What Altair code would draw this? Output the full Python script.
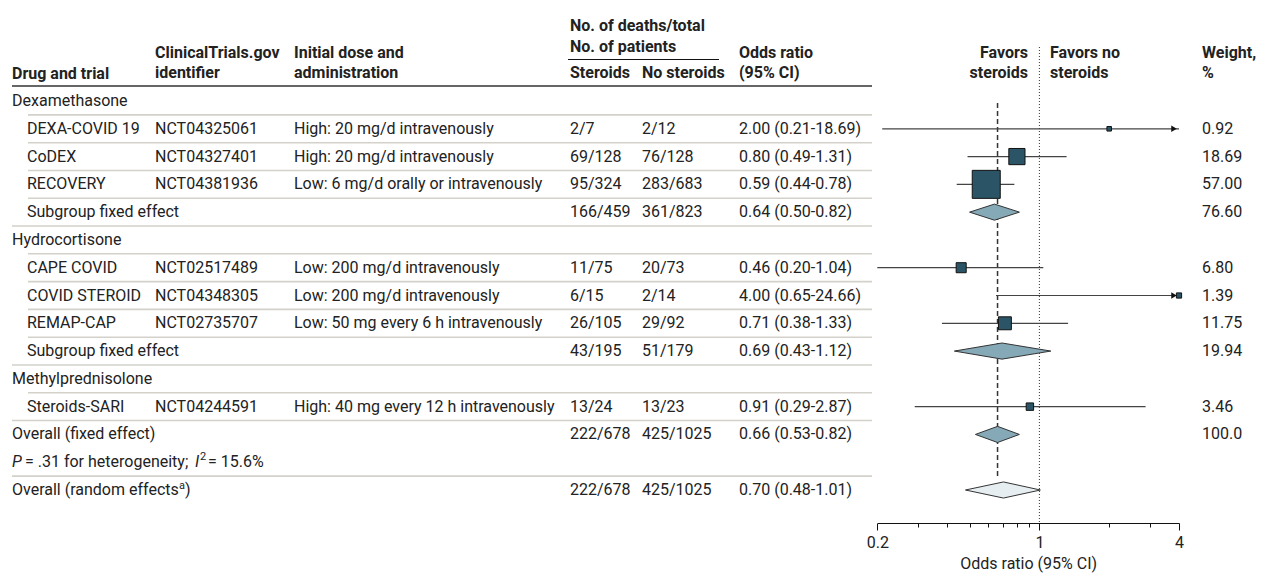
import altair as alt
import pandas as pd

FONT = "Roboto"
FS = 16
TXT = "#222222"

# ---------------- data ----------------
labels = ["Dexamethasone", "DEXA-COVID 19", "CoDEX", "RECOVERY", "Subgroup fixed effect",
          "Hydrocortisone", "CAPE COVID", "COVID STEROID", "REMAP-CAP", "Subgroup fixed effect",
          "Methylprednisolone", "Steroids-SARI", "Overall (fixed effect)", "",
          "Overall (random effects"]
kinds = ["group", "trial", "trial", "trial", "sub",
         "group", "trial", "trial", "trial", "sub",
         "group", "trial", "overall", "note", "random"]
nct = ["", "NCT04325061", "NCT04327401", "NCT04381936", "",
       "", "NCT02517489", "NCT04348305", "NCT02735707", "",
       "", "NCT04244591", "", "", ""]
dose = ["", "High: 20 mg/d intravenously", "High: 20 mg/d intravenously",
        "Low: 6 mg/d orally or intravenously", "",
        "", "Low: 200 mg/d intravenously", "Low: 200 mg/d intravenously",
        "Low: 50 mg every 6 h intravenously", "",
        "", "High: 40 mg every 12 h intravenously", "", "", ""]
deaths_st = ["", "2/7", "69/128", "95/324", "166/459", "", "11/75", "6/15", "26/105", "43/195",
             "", "13/24", "222/678", "", "222/678"]
deaths_no = ["", "2/12", "76/128", "283/683", "361/823", "", "20/73", "2/14", "29/92", "51/179",
             "", "13/23", "425/1025", "", "425/1025"]
odds = [None, 2.00, 0.80, 0.59, 0.64, None, 0.46, 4.00, 0.71, 0.69, None, 0.91, 0.66, None, 0.70]
ci_lo = [None, 0.21, 0.49, 0.44, 0.50, None, 0.20, 0.65, 0.38, 0.43, None, 0.29, 0.53, None, 0.48]
ci_hi = [None, 18.69, 1.31, 0.78, 0.82, None, 1.04, 24.66, 1.33, 1.12, None, 2.87, 0.82, None, 1.01]
weights = [None, 0.92, 18.69, 57.00, 76.60, None, 6.80, 1.39, 11.75, 19.94, None, 3.46, 100.0, None, None]
weight_txt = ["", "0.92", "18.69", "57.00", "76.60", "", "6.80", "1.39", "11.75", "19.94",
              "", "3.46", "100.0", "", ""]
null_value = [1.0]
tick_values = [0.2, 0.3, 0.4, 0.5, 0.6, 0.7, 0.8, 0.9, 1, 2, 3, 4]
tick_labels = ["0.2", "1", "4"]
x_min, x_max = 0.2, 4.0

# ---------------- tables ----------------
rows = pd.DataFrame({
    "label": labels, "kind": kinds, "nct": nct, "dose": dose,
    "st": deaths_st, "nost": deaths_no, "or": odds, "lo": ci_lo, "hi": ci_hi,
    "weight": weights, "wtxt": weight_txt,
})
rows["pos"] = range(len(rows))
rows["orci"] = [f"{o:.2f} ({l:.2f}-{h:.2f})" if pd.notna(o) else ""
                for o, l, h in zip(rows["or"], rows["lo"], rows["hi"])]
rows["lo_c"] = rows["lo"].clip(lower=x_min)
rows["hi_c"] = rows["hi"].clip(upper=x_max)
rows["arrow"] = rows["hi"] > x_max

trials = rows[rows["kind"] == "trial"].copy()
arrows = trials[trials["arrow"]].copy()

H = 0.29
dia = []
for _, r in rows[rows["kind"].isin(["sub", "overall", "random"])].iterrows():
    for xv, a, b in [(r["lo"], r["pos"], r["pos"]), (r["or"], r["pos"] - H, r["pos"] + H),
                     (r["hi"], r["pos"], r["pos"])]:
        dia.append({"id": int(r["pos"]), "kind": r["kind"], "x": xv, "ya": a, "yb": b})
dia = pd.DataFrame(dia)

seps = rows[~rows["kind"].isin(["overall", "random"])].copy()
seps["sp"] = seps["pos"] + 0.5
nxt = list(rows["kind"][1:]) + [""]
seps["indent"] = [nxt[int(p)] in ("trial", "sub") for p in seps["pos"]]

overall = rows[rows["kind"] == "overall"].copy()

# ---------------- scales ----------------
yscale = alt.Scale(domain=[0, 14], range=[93, 482], zero=False, nice=False)
xscale = alt.Scale(type="log", domain=[x_min, x_max], range=[869.3, 1171], nice=False)
Y = alt.Y("pos:Q", scale=yscale, axis=None)

major_test = " || ".join(f"datum.value == {t}" for t in tick_labels)
label_expr = " : ".join(f"datum.value == {t} ? '{t}'" for t in tick_labels) + " : ''"
X_AXIS = alt.Axis(values=tick_values, labelExpr=label_expr, title="Odds ratio (95% CI)",
                  grid=False, domainColor="#111", domainWidth=1, tickColor="#111",
                  tickSize={"condition": {"test": major_test, "value": 7}, "value": 4},
                  labelFont=FONT, labelFontSize=16, labelColor=TXT, labelPadding=4,
                  labelFlush=False, labelOverlap=False, titleFont=FONT, titleFontSize=16,
                  titleFontWeight="normal", titleColor=TXT, titlePadding=5)

layers = []


def col_text(df, field, x, align="left"):
    return alt.Chart(df).mark_text(align=align, baseline="middle", font=FONT, fontSize=FS,
                                   color=TXT).encode(x=alt.value(x), y=Y, text=f"{field}:N")


def hdr(t, x, y, align="left", bold=True):
    return alt.Chart(pd.DataFrame({"t": [t]})).mark_text(
        align=align, baseline="middle", font=FONT, fontSize=FS, color=TXT,
        fontWeight="bold" if bold else "normal").encode(
        x=alt.value(x), y=alt.value(y), text="t:N")


# separators
layers.append(alt.Chart(seps[seps["indent"]]).mark_rule(color="#d3d1c9", strokeWidth=1.6).encode(
    y=alt.Y("sp:Q", scale=yscale, axis=None), x=alt.value(20), x2=alt.value(864)))
layers.append(alt.Chart(seps[~seps["indent"]]).mark_rule(color="#d3d1c9", strokeWidth=1.6).encode(
    y=alt.Y("sp:Q", scale=yscale, axis=None), x=alt.value(4), x2=alt.value(864)))
# header rules
layers.append(alt.Chart(pd.DataFrame({"a": [0]})).mark_rule(color="#666", strokeWidth=2).encode(
    x=alt.value(4), x2=alt.value(864), y=alt.value(78)))
layers.append(alt.Chart(pd.DataFrame({"a": [0]})).mark_rule(color="#111", strokeWidth=1).encode(
    x=alt.value(560), x2=alt.value(711), y=alt.value(51.5)))

# headers
for t, x, y, al in [
    ("Drug and trial", 4, 66, "left"),
    ("ClinicalTrials.gov", 147, 45, "left"), ("identifier", 147, 65, "left"),
    ("Initial dose and", 286, 45, "left"), ("administration", 286, 65, "left"),
    ("No. of deaths/total", 562, 18, "left"), ("No. of patients", 562, 39, "left"),
    ("Steroids", 562, 65, "left"), ("No steroids", 634, 65, "left"),
    ("Odds ratio", 731, 45, "left"), ("(95% CI)", 731, 65, "left"),
    ("Favors", 1020, 45, "right"), ("steroids", 1020, 65, "right"),
    ("Favors no", 1042, 45, "left"), ("steroids", 1042, 65, "left"),
    ("Weight,", 1194, 45, "left"), ("%", 1194, 65, "left"),
]:
    layers.append(hdr(t, x, y, al))

# table columns
layers.append(col_text(rows[rows["kind"].isin(["group", "overall", "random"])], "label", 4))
layers.append(col_text(rows[rows["kind"].isin(["trial", "sub"])], "label", 19))
layers.append(col_text(rows, "nct", 147))
layers.append(col_text(rows, "dose", 286))
layers.append(col_text(rows, "st", 562))
layers.append(col_text(rows, "nost", 634))
layers.append(col_text(rows, "orci", 731))
layers.append(col_text(rows, "wtxt", 1194))

# heterogeneity note and superscript pieces
note = rows[rows["kind"] == "note"]
rnd = rows[rows["kind"] == "random"]
for df, t, x, style, fs, dy in [
    (note, "P", 4, "italic", FS, 0), (note, "= .31 for heterogeneity;", 17, "normal", FS, 0),
    (note, "I", 187, "italic", FS, 0), (note, "2", 192, "normal", 11, -5),
    (note, "= 15.6%", 200, "normal", FS, 0),
    (rnd, "a", 171, "normal", 11, -4), (rnd, ")", 177, "normal", FS, 0),
]:
    layers.append(alt.Chart(df).mark_text(align="left", baseline="middle", font=FONT, fontSize=fs,
                                          fontStyle=style, color=TXT, dy=dy).encode(
        x=alt.value(x), y=Y, text=alt.value(t)))

# reference lines
layers.append(alt.Chart(pd.DataFrame({"v": null_value})).mark_rule(
    color="#333", strokeWidth=1, strokeDash=[1, 2]).encode(
    x=alt.X("v:Q", scale=xscale), y=alt.value(39), y2=alt.value(515)))
layers.append(alt.Chart(overall).mark_rule(color="#333", strokeWidth=1.5, strokeDash=[5, 3]).encode(
    x=alt.X("or:Q", scale=xscale), y=alt.value(95), y2=alt.value(470)))

# CI lines
layers.append(alt.Chart(trials).mark_rule(color="#444", strokeWidth=1.2).encode(
    x=alt.X("lo_c:Q", scale=xscale), x2="hi_c:Q", y=Y))
layers.append(alt.Chart(arrows).mark_point(shape="triangle-right", filled=True, size=40,
                                           color="#111", opacity=1, xOffset=-5).encode(
    x=alt.X("hi_c:Q", scale=xscale), y=Y))

# diamonds
layers.append(alt.Chart(dia[dia["kind"] != "random"]).mark_area(
    fill="#86a9b7", stroke="#333", strokeWidth=1, opacity=1).encode(
    x=alt.X("x:Q", scale=xscale), y=alt.Y("ya:Q", scale=yscale, axis=None),
    y2="yb:Q", detail="id:N"))
layers.append(alt.Chart(dia[dia["kind"] == "random"]).mark_area(
    fill="#e6eef1", stroke="#333", strokeWidth=1, opacity=1).encode(
    x=alt.X("x:Q", scale=xscale), y=alt.Y("ya:Q", scale=yscale, axis=None),
    y2="yb:Q", detail="id:N"))

# squares (carry the x axis)
layers.append(alt.Chart(trials).mark_square(filled=True, fill="#2b5566", stroke="#111",
                                            strokeWidth=1, opacity=1).encode(
    x=alt.X("or:Q", scale=xscale, axis=X_AXIS), y=Y,
    size=alt.Size("weight:Q", scale=alt.Scale(domain=[0, 57], range=[8, 784]), legend=None)))

chart = alt.layer(*layers).properties(
    width=1251, height=515,
    padding={"left": 0, "top": 0, "right": 0, "bottom": 53},
    autosize=alt.AutoSizeParams(type="none"),
).configure_view(stroke=None).configure_axis(labelFontSize=16, titleFontSize=16)

chart.save("out.html", embed_options={"renderer": "svg", "actions": False})
